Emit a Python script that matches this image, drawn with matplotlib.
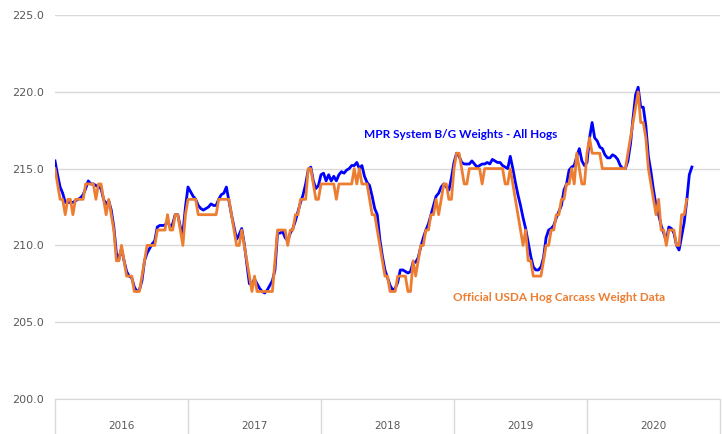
import matplotlib
matplotlib.use("Agg")
import matplotlib.pyplot as plt

# weekly series, first week of 2016 onward
mpr_weights = [
    215.5, 214.6, 213.8, 213.4, 212.8, 212.8, 212.8, 212.8, 212.9, 213.0,
    213.1, 213.3, 213.7, 214.2, 214.0, 214.0, 213.9, 213.8, 213.7, 213.0,
    212.7, 212.9, 212.3, 211.2, 209.5, 209.1, 209.8, 209.0, 208.3, 208.0,
    207.9, 207.3, 207.0, 207.1, 207.7, 209.0, 209.5, 209.8, 210.1, 210.3,
    211.2, 211.3, 211.3, 211.3, 211.6, 211.2, 211.4, 212.0, 212.0, 211.2,
    210.8, 212.5,
    213.8, 213.5, 213.2, 213.0, 212.6, 212.4, 212.3, 212.4, 212.5, 212.7,
    212.6, 212.6, 213.0, 213.3, 213.4, 213.8, 212.9, 212.0, 211.2, 210.4,
    210.7, 211.1, 210.1, 208.8, 207.5, 207.5, 207.8, 207.5, 207.2, 207.0,
    206.9, 207.1, 207.4, 207.7, 208.4, 210.8, 210.8, 210.9, 210.5, 210.3,
    210.8, 211.1, 211.6, 212.2, 212.8, 213.3, 214.0, 214.9, 215.1, 214.2,
    213.7, 213.9,
    214.6, 214.7, 214.2, 214.6, 214.2, 214.5, 214.2, 214.6, 214.8, 214.7,
    214.9, 215.0, 215.2, 215.2, 215.4, 215.0, 215.2, 214.5, 214.1, 213.9,
    213.2, 212.4, 212.0, 210.4, 209.3, 208.4, 207.9, 207.4, 207.1, 207.2,
    207.6, 208.4, 208.4, 208.3, 208.2, 208.3, 208.9, 208.9, 209.2, 209.9,
    210.5, 211.0, 211.4, 212.0, 212.6, 213.2, 213.4, 213.8, 214.0, 213.8,
    213.6, 214.4,
    215.4, 216.0, 215.8, 215.4, 215.3, 215.3, 215.3, 215.5, 215.3, 215.1,
    215.2, 215.3, 215.3, 215.4, 215.3, 215.6, 215.5, 215.4, 215.4, 215.2,
    215.1, 215.0, 215.8, 215.0, 214.1, 213.3, 212.6, 211.8, 211.1, 210.2,
    209.3, 208.6, 208.4, 208.4, 208.6, 209.2, 210.5, 211.0, 211.1, 211.3,
    211.8, 212.2, 212.6, 213.6, 214.0, 214.9, 215.1, 215.2, 215.8, 216.3,
    215.5, 215.2,
    215.4, 217.0, 218.0, 217.0, 216.8, 216.4, 216.3, 215.9, 215.7, 215.7,
    215.9, 215.8, 215.6, 215.2, 215.0, 215.0, 215.5, 216.6, 218.3, 219.8,
    220.3, 219.0, 219.0, 217.8, 215.8, 214.8, 213.6, 212.6, 212.0, 211.3,
    210.8, 210.3, 211.2, 211.1, 210.8, 210.0, 209.7, 210.6, 211.5, 212.9,
    214.6, 215.1,
]

usda_weights = [
    215, 214, 213, 213, 212, 213, 213, 212, 213, 213,
    213, 213, 214, 214, 214, 214, 213, 214, 214, 213,
    212, 213, 212, 211, 209, 209, 210, 209, 208, 208,
    208, 207, 207, 207, 208, 209, 210, 210, 210, 210,
    211, 211, 211, 211, 212, 211, 211, 212, 212, 211,
    210, 212,
    213, 213, 213, 213, 212, 212, 212, 212, 212, 212,
    212, 212, 213, 213, 213, 213, 213, 212, 211, 210,
    210, 211, 210, 209, 208, 207, 208, 207, 207, 207,
    207, 207, 207, 207, 209, 211, 211, 211, 211, 210,
    211, 211, 212, 212, 213, 213, 213, 215, 215, 214,
    213, 213,
    214, 214, 214, 214, 214, 214, 213, 214, 214, 214,
    214, 214, 214, 215, 214, 215, 214, 214, 214, 213,
    212, 212, 211, 210, 209, 208, 208, 207, 207, 207,
    208, 208, 208, 208, 207, 207, 209, 208, 209, 210,
    210, 211, 211, 212, 212, 213, 212, 213, 214, 214,
    213, 213,
    215, 216, 216, 215, 214, 214, 215, 215, 215, 215,
    215, 214, 215, 215, 215, 215, 215, 215, 215, 215,
    214, 214, 215, 214, 213, 212, 211, 210, 211, 209,
    209, 208, 208, 208, 208, 209, 210, 210, 211, 211,
    212, 212, 213, 213, 214, 214, 215, 214, 216, 215,
    214, 214,
    216, 217, 216, 216, 216, 216, 215, 215, 215, 215,
    215, 215, 215, 215, 215, 215, 216, 217, 218, 219,
    220, 218, 218, 217, 215, 214, 213, 212, 213, 211,
    211, 210, 211, 211, 211, 210, 210, 212, 212, 213,
]

years = ["2016", "2017", "2018", "2019", "2020"]
weeks_per_year = 52

fig = plt.figure(figsize=(7.22, 4.34), dpi=100)
ax = fig.add_axes([55 / 722, 1 - 399 / 434, 665 / 722, 384 / 434])

ax.plot(range(len(mpr_weights)), mpr_weights, color="#0000FF", lw=2.0)
ax.plot(range(len(usda_weights)), usda_weights, color="#ED7D31", lw=2.0)

ax.set_ylim(200, 225)
ax.set_xlim(0, weeks_per_year * len(years))
ax.set_yticks([200, 205, 210, 215, 220, 225])
ax.set_yticklabels([f"{v:.1f}" for v in ax.get_yticks()])
ax.yaxis.grid(True, color="#d9d9d9", lw=1)
ax.set_axisbelow(True)
ax.tick_params(axis="y", length=0, pad=8, labelsize=8, labelcolor="#595959")

for s in ["left", "right", "top"]:
    ax.spines[s].set_visible(False)
ax.spines["bottom"].set_color("#d9d9d9")

# year boundaries drawn as long ticks, labels centred between them
bounds = [k * weeks_per_year for k in range(len(years) + 1)]
ax.set_xticks(bounds)
ax.set_xticklabels([])
ax.tick_params(axis="x", which="major", length=26, width=1, color="#d9d9d9")
ax.set_xticks([b + weeks_per_year / 2 for b in bounds[:-1]], minor=True)
ax.set_xticklabels(years, minor=True)
ax.tick_params(axis="x", which="minor", length=0, pad=16, labelsize=7.5, labelcolor="#595959")

ax.text(0.465, 0.68, "MPR System B/G Weights - All Hogs", transform=ax.transAxes,
        color="#0000FF", fontsize=8.5, fontweight="bold", family="Lato")
ax.text(0.599, 0.255, "Official USDA Hog Carcass Weight Data", transform=ax.transAxes,
        color="#ED7D31", fontsize=8.5, fontweight="bold", family="Lato")

fig.savefig("out.png", dpi=100)
